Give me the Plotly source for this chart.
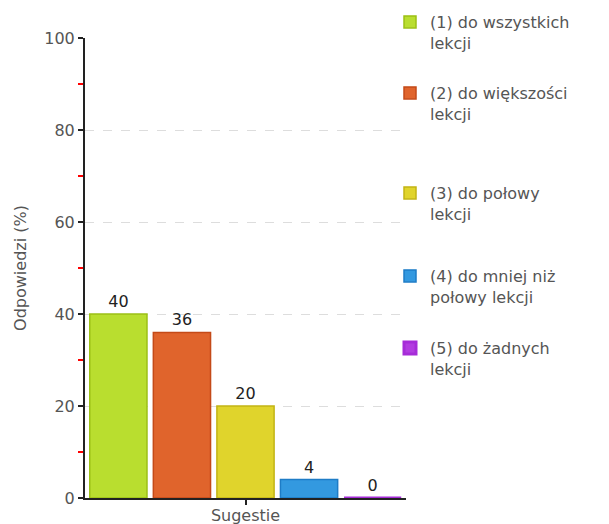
import plotly.graph_objects as go

# Survey answers: how often suggestions were used in lessons
category = ["Sugestie"]
answer_labels = [
    "(1) do wszystkich<br>lekcji",
    "(2) do większości<br>lekcji",
    "(3) do połowy<br>lekcji",
    "(4) do mniej niż<br>połowy lekcji",
    "(5) do żadnych<br>lekcji",
]
answer_values = [40, 36, 20, 4, 0]
fill_colors = ["#B9DE2F", "#E0642C", "#E0D42C", "#3399E0", "#B23CE0"]
edge_colors = ["#9CC016", "#C44A18", "#C2B414", "#1E7CC6", "#A62CD8"]
edge_widths = [1.5, 1.5, 1.5, 1.5, 3]

# vertical pixel centre of the first text line of each legend entry
legend_rows = [22, 93, 193, 276, 348]

W, H = 609, 524
L, R, T, B = 85, 203, 38, 26
plot_w = W - L - R
plot_h = H - T - B

FONT = "DejaVu Sans"
TXT = "#555555"

fig = go.Figure()
legend_layout = {}
for i, (lab, val, fc, ec, ew, row) in enumerate(
        zip(answer_labels, answer_values, fill_colors, edge_colors, edge_widths, legend_rows)):
    lname = "legend" if i == 0 else f"legend{i + 1}"
    fig.add_trace(go.Bar(
        x=category,
        y=[val],
        name=lab,
        marker=dict(color=fc, line=dict(color=ec, width=ew)),
        text=[str(val)],
        textposition="outside",
        textfont=dict(family=FONT, size=16, color="#222222"),
        cliponaxis=False,
        legend=lname,
        hoverinfo="skip",
    ))
    legend_layout[lname] = dict(
        x=(390 - L) / plot_w, xanchor="left",
        y=(H - B - (row - 17)) / plot_h, yanchor="top",
        valign="top",
        bgcolor="rgba(0,0,0,0)",
        font=dict(family=FONT, size=16, color=TXT),
        itemclick=False, itemdoubleclick=False,
    )

fig.update_layout(
    template="none",
    width=W, height=H,
    margin=dict(l=L, r=R, t=T, b=B, pad=0, autoexpand=False),
    paper_bgcolor="white", plot_bgcolor="white",
    barmode="group",
    bargap=0.01,
    bargroupgap=0.1,
    showlegend=True,
    font=dict(family=FONT, size=16, color=TXT),
    **legend_layout,
)

fig.update_xaxes(
    type="category",
    automargin=False,
    layer="below traces",
    showline=True, linecolor="#222222", linewidth=2,
    ticks="outside", ticklen=5, tickcolor="#222222", tickwidth=2,
    ticklabelstandoff=-3,
    tickfont=dict(family=FONT, size=16, color=TXT),
    showgrid=False, zeroline=False,
    fixedrange=True,
)

fig.update_yaxes(
    range=[0, 100],
    dtick=20,
    automargin=False,
    showline=True, linecolor="#222222", linewidth=2,
    ticks="outside", ticklen=5, tickcolor="#222222", tickwidth=2,
    tickfont=dict(family=FONT, size=16, color=TXT),
    showgrid=True, gridcolor="#DDDDDD", griddash="dash", gridwidth=1,
    zeroline=False,
    minor=dict(dtick=10, ticks="outside", ticklen=5, tickcolor="#FF0000", tickwidth=2, showgrid=False),
    title=dict(text="Odpowiedzi (%)", font=dict(family=FONT, size=16, color=TXT), standoff=14),
    fixedrange=True,
)

fig.write_html("out.html", config={"displayModeBar": False})
